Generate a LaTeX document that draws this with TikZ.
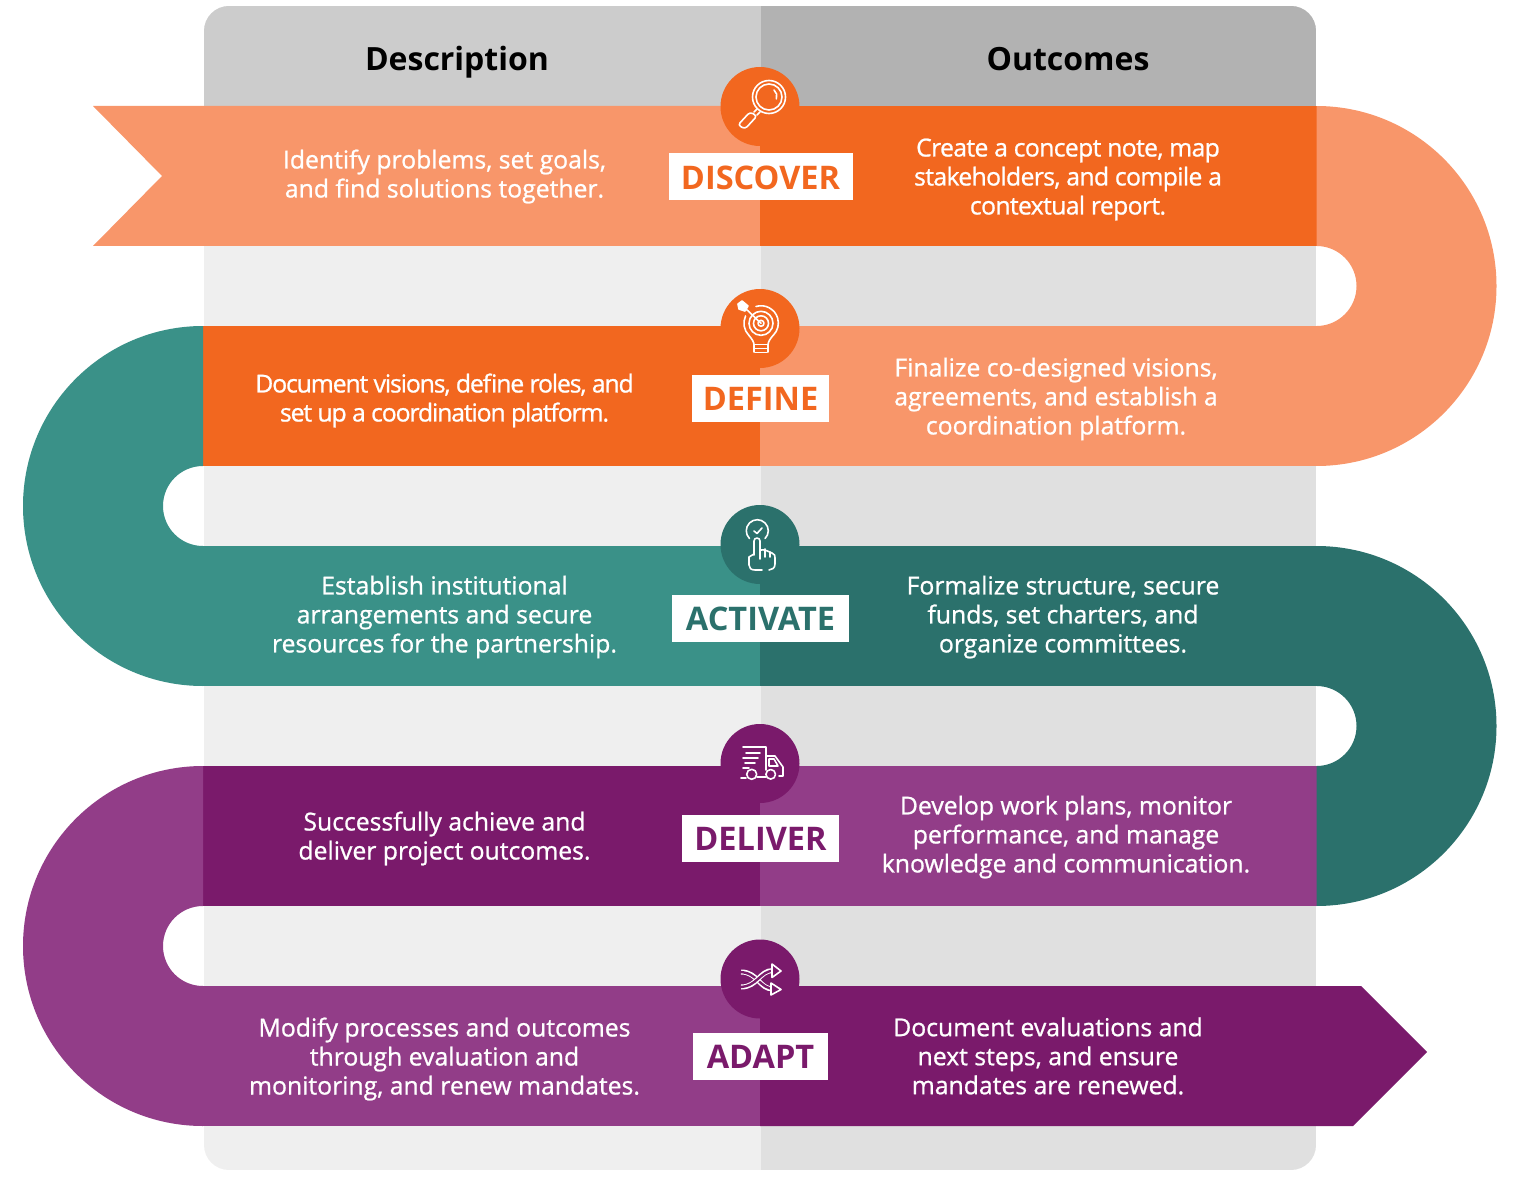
\documentclass[tikz,border=0pt]{standalone}
\usepackage{fontspec}
\setmainfont{Open Sans}
\newfontfamily\bodyfont{Open Sans}[RawFeature={embolden=0.9}]
\newfontfamily\tightfont{Open Sans}[RawFeature={embolden=0.9},LetterSpace=-4.5]
\newfontfamily\snugfont{Open Sans}[RawFeature={embolden=0.9},LetterSpace=-2.6]
\usetikzlibrary{positioning}
\definecolor{hdleft}{HTML}{CCCCCC}
\definecolor{hdright}{HTML}{B2B2B2}
\definecolor{bgleft}{HTML}{EFEFEF}
\definecolor{bgright}{HTML}{E0E0E0}
\definecolor{orgdark}{HTML}{F2671F}
\definecolor{orglight}{HTML}{F8966A}
\definecolor{tealdark}{HTML}{2B716C}
\definecolor{teallight}{HTML}{3A9188}
\definecolor{purdark}{HTML}{7A1A6B}
\definecolor{purlight}{HTML}{923D88}
\tikzset{
  hdtxt/.style={font=\fontsize{32}{36}\selectfont\bfseries,text=black},
  bodytxt/.style={font=\bodyfont\fontsize{24.75}{29}\selectfont,text=white,align=center,inner sep=0pt},
  bodytight/.style={bodytxt,font=\tightfont\fontsize{24.75}{29}\selectfont},
  bodysnug/.style={bodytxt,font=\snugfont\fontsize{24.75}{29}\selectfont},
  steplab/.style={fill=white,font=\fontsize{32.5}{36}\selectfont\bfseries,inner sep=0pt,minimum height=47,text height=24.5,text depth=0},
  disc/.style={circle,minimum size=79,inner sep=0pt},
  icon/.style={draw=white,line width=1.6pt,line cap=round,line join=round}
}
\begin{document}
\begin{tikzpicture}[x=1pt,y=-1pt]
  \useasboundingbox (0,0) rectangle (1531,1190);
  % panel
  \begin{scope}
    \clip[rounded corners=25] (204,6) rectangle (1316,1170);
    \fill[bgleft] (204,6) rectangle (760.5,1170);
    \fill[bgright] (760.5,6) rectangle (1316,1170);
    \fill[hdleft] (204,6) rectangle (760.5,106);
    \fill[hdright] (760.5,6) rectangle (1316,106);
  \end{scope}
  \node[hdtxt] (desc) at (457,62.5) {Description};
  \node[hdtxt] (outc) at (1068,59) {Outcomes};
  % bands
  \foreach \yt/\cA/\cB in {326/orgdark/orglight,546/teallight/tealdark,766/purdark/purlight}{
    \fill[\cA] (202.5,\yt) rectangle (760,\yt+140);
    \fill[\cB] (760,\yt) rectangle (1316.5,\yt+140);}
  \fill[orglight] (93,106) -- (162,176) -- (93,246) -- (760,246) -- (760,106) -- cycle;
  \fill[orgdark] (760,106) rectangle (1316.5,246);
  \fill[purlight] (202.5,986) rectangle (760,1126);
  \fill[purdark] (760,986) -- (1361,986) -- (1427,1052) -- (1353,1126) -- (760,1126) -- cycle;
  % turns
  \foreach \yt/\cC in {106/orglight,546/tealdark}{
    \fill[\cC] (1316.5,\yt) arc[start angle=-90,end angle=90,radius=180] -- ++(0,-140)
      arc[start angle=90,end angle=-90,radius=40] -- cycle;}
  \foreach \yt/\cC in {326/teallight,766/purlight}{
    \fill[\cC] (203,\yt) arc[start angle=-90,end angle=-270,radius=180] -- ++(0,-140)
      arc[start angle=90,end angle=270,radius=40] -- cycle;}
  % discs
  \node[disc,fill=orgdark] (discA) at (760,106.5) {};
  \node[disc,fill=orgdark] (discB) at (760,328.5) {};
  \node[disc,fill=tealdark] (discC) at (760,544.5) {};
  \node[disc,fill=purdark] (discD) at (760,763.5) {};
  \node[disc,fill=purdark] (discE) at (760,979) {};
  % magnifier
  \draw[icon] (769,97) circle (16.5) (769,97) circle (13);
  \draw[icon] (774,90) arc[start angle=-50,end angle=20,radius=8];
  \draw[icon] (757,109) -- (754,112) (760,112) -- (757,115);
  \draw[icon,rounded corners=3] (750,112) -- (757,116) -- (745,129) -- (738,125) -- cycle;
  % bulb
  \draw[icon] (756,306.5) arc[start angle=-107,end angle=45,radius=17.3];
  \draw[icon] (749,335.5) arc[start angle=135,end angle=205,radius=17.3];
  \draw[icon] (749,335.5) .. controls (752,339) and (754,342) .. (754,345) -- (754,352)
    (773,335.5) .. controls (770,339) and (768,342) .. (768,345) -- (768,352);
  \draw[icon] (754,344.5) -- (768,344.5) (754,348.5) -- (768,348.5) (755,352.5) -- (767,352.5);
  \draw[icon] (761,323.3) circle (3) (761,323.3) circle (7.5) (761,323.3) circle (12);
  \draw[icon] (761,323.3) -- (745,308);
  \draw[icon,fill=white] (738,304) -- (742,301) -- (748,306) -- (745,311) -- (739,309) -- cycle;
  % hand
  \draw[icon] (749.5,538.5) arc[start angle=135,end angle=405,radius=11];
  \draw[icon] (754,531) -- (757,533.5) -- (762,528);
  \draw[icon] (754,555) -- (754,541) arc[start angle=180,end angle=360,radius=3] -- (760,559)
    (760,550) .. controls (765,549) and (769,552) .. (772,553) .. controls (775,554) and (775,556) .. (775,558)
    -- (775,564) .. controls (775,568) and (772,570) .. (769,570)
    (762,570) -- (755,570) .. controls (751,570) and (749,568) .. (749,565) -- (749,557) -- (754,554);
  \draw[icon] (765,549) -- (765,557) (770,552) -- (770,557);
  % truck
  \draw[icon] (743,747) -- (766,747) -- (766,770);
  \draw[icon] (746,753) -- (760,753) (743,758) -- (758,758) (745,763) -- (755,763) (743,768) -- (749,768);
  \draw[icon] (766,756) -- (775,756) -- (783,767) -- (783,776) -- (779,776);
  \draw[icon] (769,759) -- (774,759) -- (778,766) -- (769,766) -- cycle;
  \draw[icon] (751.7,774.3) circle (5) (770.7,774.3) circle (4.8);
  \draw[icon] (757,777) -- (766,777) (741,778) -- (746,778);
  % shuffle
  \draw[draw=white,line width=5pt,line cap=butt] (741,972) .. controls (758,972) and (759,989) .. (773,989);
  \draw[draw=purdark,line width=2.4pt,line cap=butt] (739,972) .. controls (758,972) and (759,989) .. (775,989);
  \draw[draw=white,line width=5pt,line cap=butt] (741,987) .. controls (758,987) and (759,970.5) .. (773,970.5);
  \draw[draw=purdark,line width=2.4pt,line cap=butt] (739,987) .. controls (758,987) and (759,970.5) .. (775,970.5);
  \draw[icon,fill=purdark] (772,964) -- (781,971) -- (772,977.5) -- cycle;
  \draw[icon,fill=purdark] (771,983) -- (781,989.5) -- (771,995) -- cycle;
  % labels
  \foreach \nm/\yy/\bw/\txt/\cC in {labA/177/184/DISCOVER/orgdark,labB/398/137/DEFINE/orgdark,
    labC/618.5/177/ACTIVATE/tealdark,labD/838.5/157/DELIVER/purdark,labE/1056/135/ADAPT/purdark}{
    \node[steplab,minimum width=\bw,text=\cC] (\nm) at (760.5,\yy) {\txt};}
  % texts
  \node[bodytxt] (txtA) at (444.5,176.5) {Identify problems, set goals,\\and find solutions together.};
  \node[bodysnug] (resA) at (1068,179.5) {Create a concept note, map\\stakeholders, and compile a\\contextual report.};
  \node[bodytight] (txtB) at (444.5,400.5) {Document visions, define roles, and\\set up a coordination platform.};
  \node[bodytxt] (resB) at (1056,399) {Finalize co-designed visions,\\agreements, and establish a\\coordination platform.};
  \node[bodytxt] (txtC) at (444.5,617) {Establish institutional\\arrangements and secure\\resources for the partnership.};
  \node[bodytxt] (resC) at (1063,617) {Formalize structure, secure\\funds, set charters, and\\organize committees.};
  \node[bodytxt] (txtD) at (444.5,838.5) {Successfully achieve and\\deliver project outcomes.};
  \node[bodytxt] (resD) at (1066,837) {Develop work plans, monitor\\performance, and manage\\knowledge and communication.};
  \node[bodytxt] (txtE) at (444.5,1059) {Modify processes and outcomes\\through evaluation and\\monitoring, and renew mandates.};
  \node[bodytxt] (resE) at (1048,1056) {Document evaluations and\\next steps, and ensure\\mandates are renewed.};
\end{tikzpicture}
\end{document}
